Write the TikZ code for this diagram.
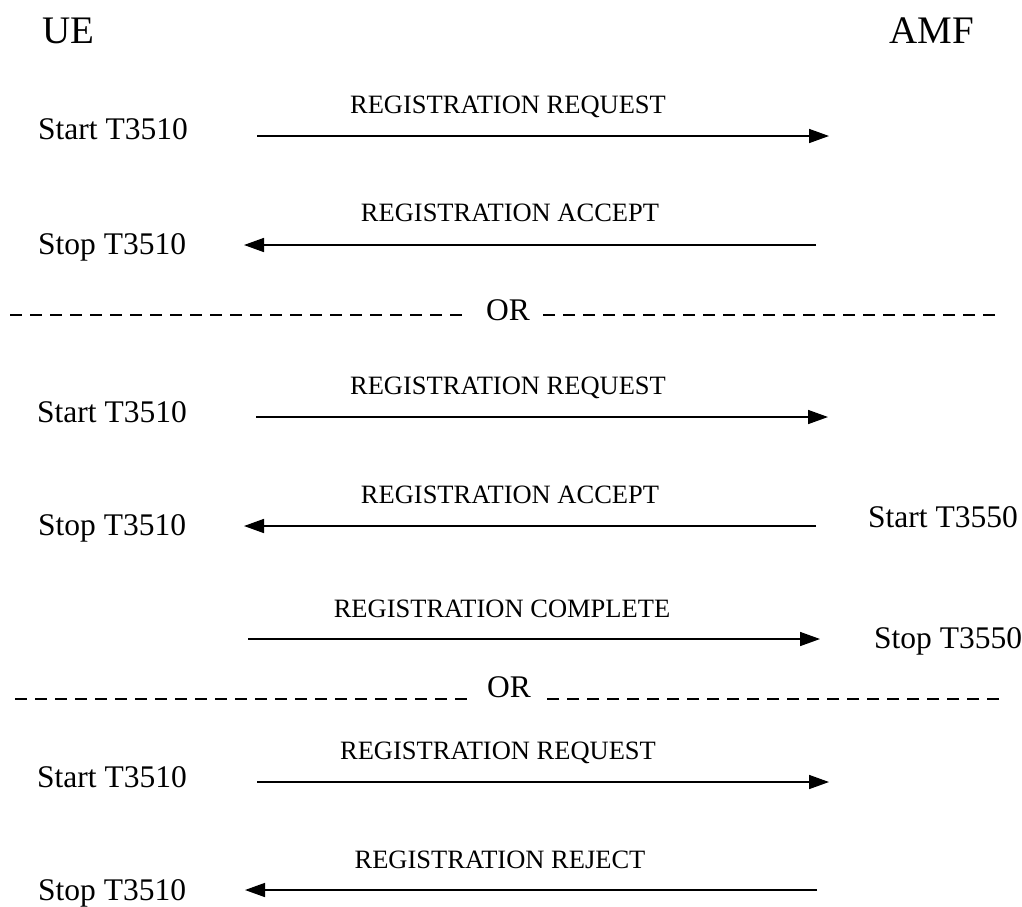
\documentclass[tikz,border=0pt]{standalone}
\usepackage{fontspec}
\setmainfont{Liberation Serif}
\usetikzlibrary{arrows.meta}
\tikzset{
  % The 'entity' style is for the UE and AMF headers
  entity/.style={font=\fontsize{39}{44}\selectfont, anchor=base west, inner sep=0pt},
  % The 'timer' style is for the Start/Stop timer texts
  timer/.style={font=\fontsize{31.5}{36}\selectfont, anchor=base west, inner sep=0pt},
  % The 'msg-label' style is for the message names above the arrows
  msg-label/.style={font=\fontsize{26.5}{30}\selectfont, anchor=base, inner sep=0pt},
  % The 'msg' style is the message arrow with a solid triangle tip
  msg/.style={draw=black, line width=1.6pt, -{Triangle[length=20pt, width=14pt]}},
  % The 'split' style is the dashed OR separator line
  split/.style={draw=black, line width=1.3pt, dash pattern=on 12pt off 8pt},
  % The 'or-text' style is for the OR word
  or-text/.style={font=\fontsize{31.5}{36}\selectfont, anchor=base west, inner sep=0pt}
}
\begin{document}
\begin{tikzpicture}[x=1pt, y=-1pt]
  \useasboundingbox (0,0) rectangle (1022,906);

  % Headers
  \node[entity] at (42,43) (ue) {UE};
  \node[entity] at (889,43) (amf) {AMF};

  % First case: request and accept
  \node[timer] at (38,139) (start-a) {Start T3510};
  \node[msg-label] at (508,113) (req-a) {REGISTRATION REQUEST};
  \coordinate (req-a-ue) at (257,136);
  \coordinate (req-a-amf) at (829,136);
  \draw[msg] (req-a-ue) -- (req-a-amf);

  \node[timer] at (38,254) (stop-a) {Stop T3510};
  \node[msg-label] at (510,221) (acc-a) {REGISTRATION ACCEPT};
  \coordinate (acc-a-amf) at (816,245);
  \coordinate (acc-a-ue) at (244,245);
  \draw[msg] (acc-a-amf) -- (acc-a-ue);

  % First OR separator
  \node[or-text] at (486,320) (or-a) {OR};
  \coordinate (or-a-left) at (10,315);
  \coordinate (or-a-right) at (995,315);
  \draw[split] (or-a-left) -- ++(453,0);
  \draw[split] (or-a-right) -- ++(-457,0);

  % Second case: request, accept and complete
  \node[timer] at (37,422) (start-b) {Start T3510};
  \node[msg-label] at (508,394) (req-b) {REGISTRATION REQUEST};
  \coordinate (req-b-ue) at (256,417);
  \coordinate (req-b-amf) at (828,417);
  \draw[msg] (req-b-ue) -- (req-b-amf);

  \node[timer] at (38,535) (stop-b) {Stop T3510};
  \node[msg-label] at (510,503) (acc-b) {REGISTRATION ACCEPT};
  \node[timer] at (868,527) (start-t3550) {Start T3550};
  \coordinate (acc-b-amf) at (816,526);
  \coordinate (acc-b-ue) at (244,526);
  \draw[msg] (acc-b-amf) -- (acc-b-ue);

  \node[msg-label] at (502,617) (cmp-b) {REGISTRATION COMPLETE};
  \node[timer] at (874,648) (stop-t3550) {Stop T3550};
  \coordinate (cmp-b-ue) at (248,639);
  \coordinate (cmp-b-amf) at (820,639);
  \draw[msg] (cmp-b-ue) -- (cmp-b-amf);

  % Second OR separator
  \node[or-text] at (487,697) (or-b) {OR};
  \coordinate (or-b-left) at (15,699);
  \coordinate (or-b-right) at (999,699);
  \draw[split] (or-b-left) -- ++(458,0);
  \draw[split] (or-b-right) -- ++(-456,0);

  % Third case: request and reject
  \node[timer] at (37,787) (start-c) {Start T3510};
  \node[msg-label] at (498,759) (req-c) {REGISTRATION REQUEST};
  \coordinate (req-c-ue) at (257,782);
  \coordinate (req-c-amf) at (829,782);
  \draw[msg] (req-c-ue) -- (req-c-amf);

  \node[timer] at (38,900) (stop-c) {Stop T3510};
  \node[msg-label] at (500,868) (rej-c) {REGISTRATION REJECT};
  \coordinate (rej-c-amf) at (817,890);
  \coordinate (rej-c-ue) at (245,890);
  \draw[msg] (rej-c-amf) -- (rej-c-ue);

\end{tikzpicture}
\end{document}
